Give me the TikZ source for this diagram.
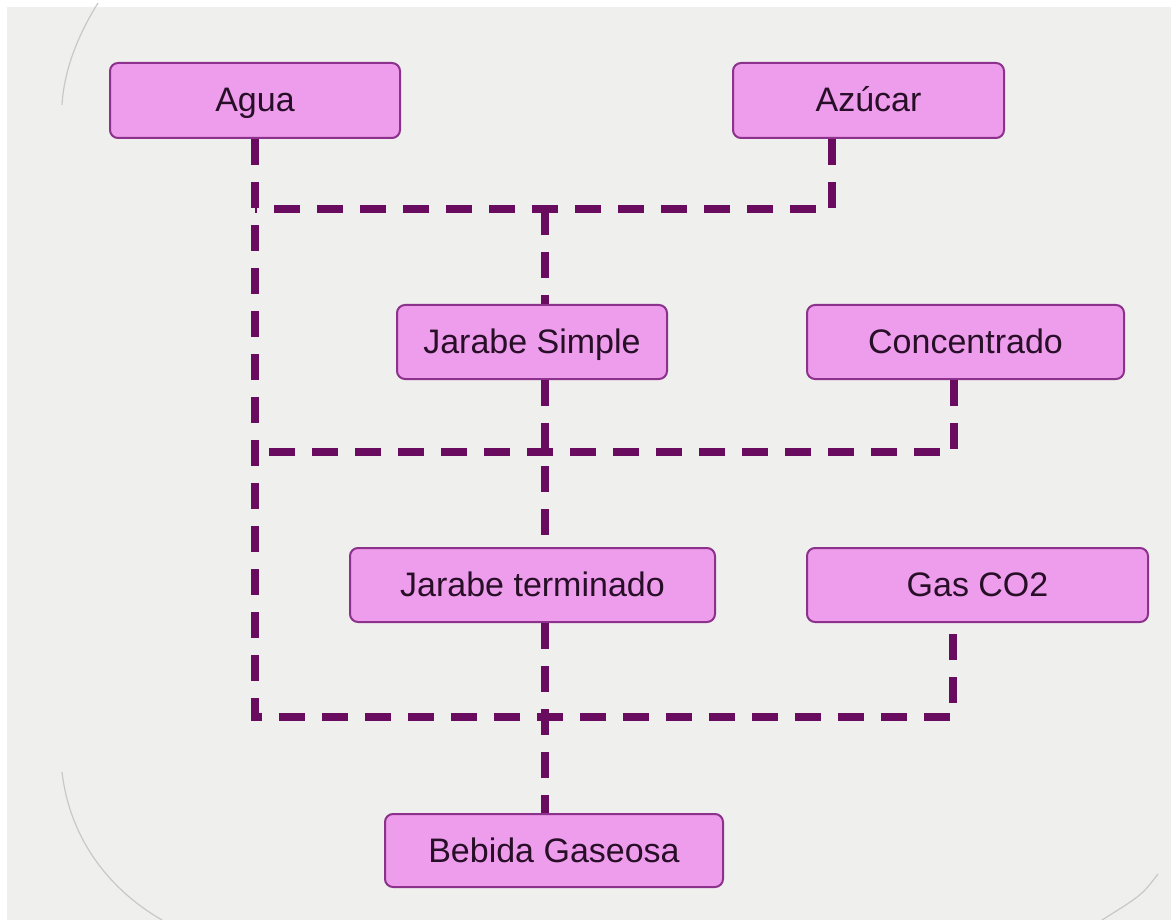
\documentclass[tikz,border=0pt]{standalone}
\usepackage{fontspec}
\setmainfont{Liberation Sans}
\definecolor{bggray}{RGB}{239,239,238}
\definecolor{boxfill}{RGB}{238,156,236}
\definecolor{boxline}{RGB}{140,50,140}
\definecolor{connc}{RGB}{105,12,95}
\definecolor{txt}{RGB}{40,15,40}
\definecolor{arcgray}{RGB}{200,200,200}
\tikzset{
  stepbox/.style={draw=boxline, line width=2pt, fill=boxfill, rounded corners=8pt,
    minimum height=75pt, inner sep=0pt, text=txt, text height=26pt, text depth=3pt,
    font=\fontsize{34}{38}\selectfont},
  conn/.style={draw=connc, line width=8pt, dash pattern=on 26pt off 17pt}
}
\begin{document}
\begin{tikzpicture}[x=1pt,y=-1pt]
\useasboundingbox (0,0) rectangle (1171,920);
\fill[white] (0,0) rectangle (1171,920);
\fill[bggray] (7,7) rectangle (1171,920);
% faint background outline arcs
\draw[arcgray, line width=1.2pt] (98,3) .. controls (78,35) and (64,70) .. (62,105);
\draw[arcgray, line width=1.2pt] (62,772) .. controls (70,840) and (110,890) .. (162,920);
\draw[arcgray, line width=1.2pt] (1158,874) .. controls (1142,895) .. (1102,920);

% nodes
\node[stepbox, minimum width=290pt] (agua) at (255,100.5) {Agua};
\node[stepbox, minimum width=271pt] (azucar) at (868.5,100.5) {Azúcar};
\node[stepbox, minimum width=270pt, minimum height=74pt] (jsimple) at (532,342) {Jarabe Simple};
\node[stepbox, minimum width=317pt, minimum height=74pt] (conc) at (965.5,342) {Concentrado};
\node[stepbox, minimum width=365pt, minimum height=74pt] (jterm) at (532.5,585) {Jarabe terminado};
\node[stepbox, minimum width=341pt, minimum height=74pt] (gas) at (977.5,585) {Gas CO2};
\node[stepbox, minimum width=338pt, minimum height=73pt] (bebida) at (554,850.5) {Bebida Gaseosa};

% junction coordinates
\coordinate (top) at (255,209);
\coordinate (mid) at (255,452);
\coordinate (low) at (255,717);
\coordinate (jtop) at (545,209);

% connectors
\draw[conn] (agua.south) -- (low) -| ([xshift=-24.5pt]gas.south);
\draw[conn] ([xshift=-36.5pt]azucar.south) |- (top);
\draw[conn] (jtop) -- ([xshift=13pt]jsimple.north);
\draw[conn] ([xshift=-11.5pt]conc.south) |- (mid);
\draw[conn] ([xshift=13pt]jsimple.south) -- ([xshift=12.5pt]jterm.north);
\draw[conn] ([xshift=12.5pt]jterm.south) -- ([xshift=-9pt]bebida.north);
\end{tikzpicture}
\end{document}
